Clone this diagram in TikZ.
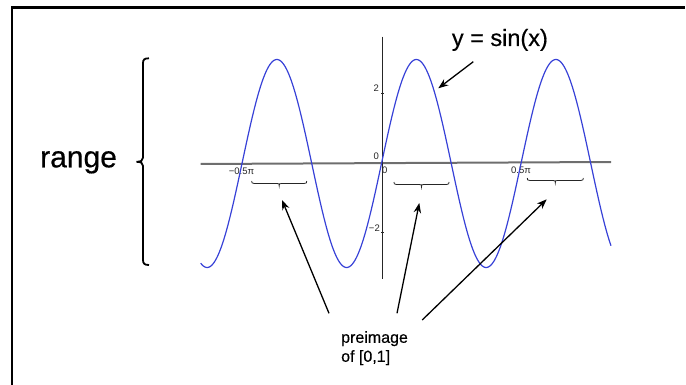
\documentclass[tikz,border=0pt]{standalone}
\usepackage{fontspec}
\setmainfont{Liberation Sans}
\newfontfamily\lblfont{Liberation Sans}[FakeBold=0.5]
\usetikzlibrary{arrows.meta}
\definecolor{sinblue}{RGB}{55,65,215}
\definecolor{axisgray}{RGB}{110,110,110}
\begin{document}
\begin{tikzpicture}[x=1pt,y=-1pt,
  frame/.style={line width=2.5pt, line join=miter},
  pointer/.style={line width=1.3pt, -{Stealth[length=10pt,width=7.5pt]}},
  bigbrace/.style={line width=1.8pt, black},
  smallbrace/.style={line width=0.8pt, black!85},
  ticklabel/.style={font=\fontsize{9.5}{11}\selectfont, inner sep=0pt, text=black!85},
  biglabel/.style={inner sep=0pt, text=black},
]
\useasboundingbox (0,0) rectangle (686,385);
% open frame (top and left edges)
\draw[frame] (12,385) -- (12,7.7) -- (685,7.7);

% axes
\draw[axisgray, line width=2pt] (200.7,164) -- (611,162);
\draw[black!85, line width=1.4pt] (382.3,36.7) -- (382.3,279.3);
\draw[black!85, line width=0.8pt] (381,93) -- (384,93);
\draw[black!85, line width=0.8pt] (381,232.7) -- (384,232.7);

% tick labels
\node[ticklabel, anchor=base east] (t2) at (379,92) {2};
\node[ticklabel, anchor=base east] (tm2) at (380,231) {−2};
\node[ticklabel, anchor=base east] (t0a) at (379,160) {0};
\node[ticklabel, anchor=base west] (t0b) at (382,173.3) {0};
\node[ticklabel, anchor=base] (tmh) at (241.5,175) {−0.5π};
\node[ticklabel, anchor=base] (tph) at (521,173.5) {0.5π};

% sine curve
\draw[sinblue, line width=1.2pt, domain=200.7:611, samples=400, smooth]
  plot (\x, {163.5 - 104*sin(2.58065*(\x-381.5))});

% small braces (tips down)
\foreach \xa/\xb/\yy in {251.7/306.7/181, 394/449/182, 527.3/583.3/178}{
  \draw[smallbrace] (\xa,\yy) .. controls (\xa,\yy+2) .. (\xa+2.5,\yy+2.5)
    -- ({(\xa+\xb)/2-2.5},\yy+2.5) .. controls ({(\xa+\xb)/2},\yy+2.5) .. ({(\xa+\xb)/2},\yy+5)
    .. controls ({(\xa+\xb)/2},\yy+2.5) .. ({(\xa+\xb)/2+2.5},\yy+2.5)
    -- (\xb-2.5,\yy+2.5) .. controls (\xb,\yy+2) .. (\xb,\yy);
}

% big brace
\draw[bigbrace] (149,58.3) .. controls (144.5,58.3) and (143,59.5) .. (143,63)
  -- (143,157.5) .. controls (143,160.5) and (141,161.8) .. (136.5,161.8)
  .. controls (141,161.8) and (143,163) .. (143,166)
  -- (143,260) .. controls (143,263.5) and (144.5,265) .. (149,265);

% labels
\node[biglabel, anchor=base west, font=\lblfont\fontsize{30}{36}\selectfont] (range) at (40,167.3) {range};
\node[biglabel, anchor=base west, font=\lblfont\fontsize{23.5}{28}\selectfont] (sinlbl) at (451.7,46) {y = sin(x)};
\node[biglabel, anchor=north west, align=left, font=\lblfont\fontsize{16}{19}\selectfont] (pre) at (341,331) {preimage\\of [0,1]};

% arrow end points
\coordinate (sinTail) at (473.3,61.7);
\coordinate (sinTip) at (438.3,88.3);
\coordinate (tailA) at (329,313.3);
\coordinate (tipA) at (282,200);
\coordinate (tailB) at (397,313.3);
\coordinate (tipB) at (419.3,203);
\coordinate (tailC) at (422.2,320);
\coordinate (tipC) at (546.7,199.3);

\draw[pointer] (sinTail) -- (sinTip);
\draw[pointer] (tailA) -- (tipA);
\draw[pointer] (tailB) -- (tipB);
\draw[pointer] (tailC) -- (tipC);
\end{tikzpicture}
\end{document}
